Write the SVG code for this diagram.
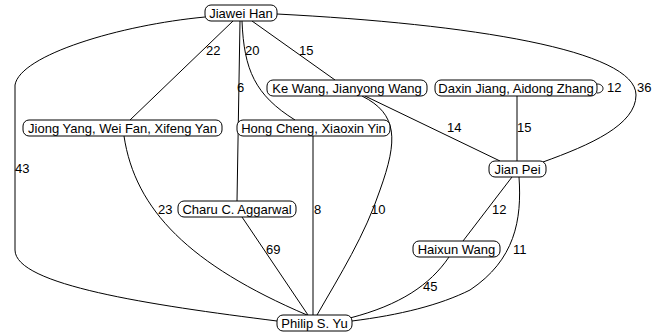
<svg xmlns="http://www.w3.org/2000/svg" width="668" height="334" viewBox="0 0 668 334">
<style>
.e{fill:none;stroke:#000;stroke-width:1}
.n rect{fill:#fff;stroke:#000;stroke-width:1}
text{font-family:"Liberation Sans",Arial,sans-serif;font-size:13px;fill:#000}
.n text{text-anchor:middle}
</style>
<rect width="668" height="334" fill="#fff"/>
<g id="edges">
<path class="e" d="M205,17 C120,25 20,55 15,85 L15,250 C15,285 150,305 277,321"/>
<path class="e" d="M233,21 L130,120"/>
<path class="e" d="M240,21 L237,201"/>
<path class="e" d="M242,21 C244,70 255,95 295,120"/>
<path class="e" d="M252,21 L335,80"/>
<path class="e" d="M277,14 C470,24 636,50 636,95 C636,125 590,145 543,162"/>
<path class="e" d="M365,96 L500,161"/>
<path class="e" d="M362,96 C398,114 398,140 380,190 C365,235 340,275 317,315"/>
<path class="e" d="M597,84 C605,84 605,93 597,93"/>
<path class="e" d="M517,96 L517,161"/>
<path class="e" d="M124,136 C135,210 190,265 307,315"/>
<path class="e" d="M313,136 L313,315"/>
<path class="e" d="M242,217 L308,315"/>
<path class="e" d="M512,177 L463,241"/>
<path class="e" d="M519,177 C522,220 515,260 470,290 C440,305 400,315 352,321"/>
<path class="e" d="M449,257 C430,285 400,305 350,318"/>
<text x="15" y="173">43</text>
<text x="206" y="55">22</text>
<text x="237" y="92">6</text>
<text x="245" y="55">20</text>
<text x="299" y="55">15</text>
<text x="637" y="92">36</text>
<text x="447" y="132">14</text>
<text x="371" y="214">10</text>
<text x="607" y="92">12</text>
<text x="517" y="132">15</text>
<text x="158" y="214">23</text>
<text x="314" y="214">8</text>
<text x="266" y="254">69</text>
<text x="492" y="214">12</text>
<text x="513" y="254">11</text>
<text x="423" y="291">45</text>
</g>
<g id="n-han" class="n"><rect x="205" y="5" width="72" height="16" rx="6"/><text x="241" y="17.5">Jiawei Han</text></g>
<g id="n-kewang" class="n"><rect x="267" y="80" width="160" height="16" rx="6"/><text x="347" y="92.5">Ke Wang, Jianyong Wang</text></g>
<g id="n-daxin" class="n"><rect x="435" y="80" width="162" height="16" rx="6"/><text x="516" y="92.5">Daxin Jiang, Aidong Zhang</text></g>
<g id="n-jiong" class="n"><rect x="23" y="120" width="199" height="16" rx="6"/><text x="122.5" y="132.5">Jiong Yang, Wei Fan, Xifeng Yan</text></g>
<g id="n-hong" class="n"><rect x="237" y="120" width="153" height="16" rx="6"/><text x="313.5" y="132.5">Hong Cheng, Xiaoxin Yin</text></g>
<g id="n-charu" class="n"><rect x="178" y="201" width="118" height="16" rx="6"/><text x="237" y="213.5">Charu C. Aggarwal</text></g>
<g id="n-pei" class="n"><rect x="489" y="161" width="57" height="16" rx="6"/><text x="517.5" y="173.5">Jian Pei</text></g>
<g id="n-haixun" class="n"><rect x="413" y="241" width="87" height="16" rx="6"/><text x="456.5" y="253.5">Haixun Wang</text></g>
<g id="n-yu" class="n"><rect x="277" y="315" width="75" height="16" rx="6"/><text x="314.5" y="327.5">Philip S. Yu</text></g>
</svg>
